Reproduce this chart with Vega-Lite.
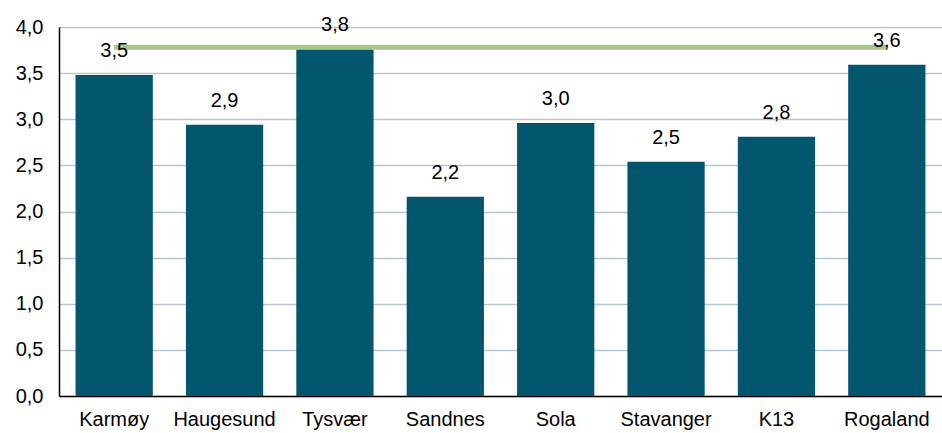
{
  "$schema": "https://vega.github.io/schema/vega-lite/v6.json",
  "autosize": "none",
  "width": 883,
  "height": 369,
  "padding": {"left": 59, "top": 27, "right": 0, "bottom": 37},
  "background": "white",
  "config": {
    "locale": {"number": {"decimal": ",", "thousands": " ", "grouping": [3], "currency": ["", " kr"]}},
    "font": "Liberation Sans",
    "view": {"stroke": null}
  },
  "data": {
    "values": [
      {"omrade": "Karmøy", "verdi": 3.48, "snitt": 3.78},
      {"omrade": "Haugesund", "verdi": 2.94, "snitt": 3.78},
      {"omrade": "Tysvær", "verdi": 3.76, "snitt": 3.78},
      {"omrade": "Sandnes", "verdi": 2.16, "snitt": 3.78},
      {"omrade": "Sola", "verdi": 2.96, "snitt": 3.78},
      {"omrade": "Stavanger", "verdi": 2.54, "snitt": 3.78},
      {"omrade": "K13", "verdi": 2.81, "snitt": 3.78},
      {"omrade": "Rogaland", "verdi": 3.59, "snitt": 3.78}
    ]
  },
  "encoding": {
    "x": {
      "field": "omrade", "type": "nominal", "sort": null,
      "scale": {"paddingInner": 0.3, "paddingOuter": 0.15},
      "axis": {"title": null, "labelAngle": 0, "labelFontSize": 20, "labelColor": "#000000", "labelPadding": 13, "ticks": false, "domainColor": "#000000", "domainWidth": 1.5, "grid": false}
    },
    "y": {
      "field": "verdi", "type": "quantitative",
      "scale": {"domain": [0, 4]},
      "axis": {"title": null, "values": [0, 0.5, 1, 1.5, 2, 2.5, 3, 3.5, 4], "format": ".1f", "labelFontSize": 20, "labelColor": "#000000", "labelPadding": 16, "ticks": false, "domainColor": "#000000", "domainWidth": 1.5, "gridColor": "#B9C5CE", "gridWidth": 1.5}
    }
  },
  "layer": [
    {
      "mark": {"type": "bar", "color": "#02566E"}
    },
    {
      "mark": {"type": "line", "color": "#A9C686", "strokeWidth": 5},
      "encoding": {"y": {"field": "snitt", "type": "quantitative",
        "axis": {"title": null, "values": [0, 0.5, 1, 1.5, 2, 2.5, 3, 3.5, 4], "format": ".1f", "labelFontSize": 20, "labelColor": "#000000", "labelPadding": 16, "ticks": false, "domainColor": "#000000", "domainWidth": 1.5, "gridColor": "#B9C5CE", "gridWidth": 1.5}}}
    },
    {
      "mark": {"type": "text", "fontSize": 20, "color": "#000000", "baseline": "middle", "dy": -24},
      "encoding": {
        "text": {"field": "verdi", "type": "quantitative", "format": ".1f"}
      }
    }
  ]
}
